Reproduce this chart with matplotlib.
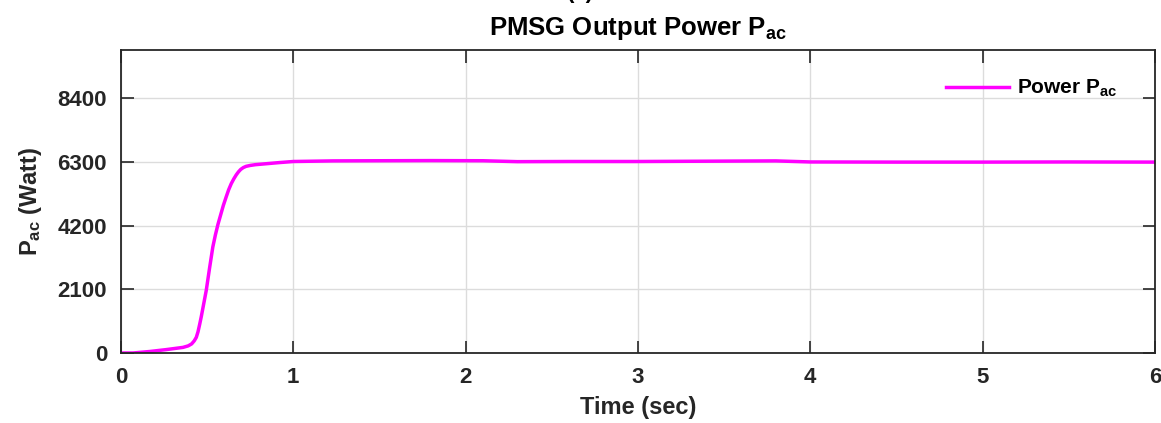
import matplotlib
matplotlib.use("Agg")
import matplotlib.pyplot as plt
import numpy as np

# curve points
t = [0.0, 0.07, 0.168, 0.26, 0.36, 0.39, 0.41, 0.425, 0.437, 0.447, 0.457, 0.466,
     0.476, 0.495, 0.514, 0.533, 0.548, 0.563, 0.578, 0.594, 0.611, 0.625, 0.64,
     0.655, 0.669, 0.682, 0.695, 0.71, 0.726, 0.75, 0.78, 0.84, 0.92, 1.0, 1.23,
     1.5, 1.8, 2.1, 2.3, 2.6, 3.0, 3.4, 3.8, 4.0, 4.5, 5.0, 5.5, 6.0]
p = [0, 0, 50, 110, 185, 235, 300, 400, 515, 700, 955, 1200,
     1500, 2070, 2800, 3500, 3900, 4250, 4550, 4870, 5160, 5390, 5590,
     5750, 5880, 5980, 6060, 6120, 6160, 6190, 6215, 6245, 6285, 6320, 6340,
     6345, 6350, 6345, 6315, 6320, 6320, 6330, 6340, 6305, 6300, 6300, 6305, 6300]

yticks = [0, 2100, 4200, 6300, 8400]
xticks = [0, 1, 2, 3, 4, 5, 6]

plt.rcParams['font.family'] = ['Liberation Sans', 'DejaVu Sans']
plt.rcParams['font.weight'] = 'bold'
plt.rcParams['mathtext.fontset'] = 'custom'
plt.rcParams['mathtext.rm'] = 'Liberation Sans:bold'
plt.rcParams['mathtext.bf'] = 'Liberation Sans:bold'
plt.rcParams['mathtext.it'] = 'Liberation Sans:bold'
plt.rcParams['mathtext.default'] = 'bf'

fig = plt.figure(figsize=(11.61, 4.23), dpi=100)
ax = fig.add_axes([0.1042, 0.1655, 0.8906, 0.7163])

ax.plot(t, p, color='#FF00FF', lw=2.5, label='Power P$_{ac}$')

ax.set_xlim(0, 6)
ax.set_ylim(0, 10000)
ax.set_xticks(xticks)
ax.set_yticks(yticks)
ax.grid(True, color='#dcdcdc', lw=1.0)
ax.tick_params(direction='in', length=9, width=1.2, top=True, right=True,
               labelsize=16, colors='#262626')
ax.tick_params(axis='x', pad=10)
ax.tick_params(axis='y', pad=10)
for lab in ax.get_xticklabels() + ax.get_yticklabels():
    lab.set_fontweight('bold')
for s in ax.spines.values():
    s.set_color('#262626')
    s.set_linewidth(1.3)

ax.set_xlabel('Time (sec)', fontsize=17, fontweight='bold', color='#262626', labelpad=6)
ax.set_ylabel('P$_{ac}$ (Watt)', fontsize=17, fontweight='bold', color='#262626', labelpad=10)
ax.set_title('PMSG Output Power P$_{ac}$', fontsize=18.5, fontweight='bold', pad=11)
fig.text(0.5, 0.992, '(a)', ha='center', va='bottom', fontsize=16, fontweight='bold')

leg = ax.legend(loc='upper right', frameon=False, fontsize=15, handlelength=3.0,
                handletextpad=0.4, bbox_to_anchor=(0.982, 0.97))
for txt in leg.get_texts():
    txt.set_fontweight('bold')

fig.savefig('out.png', dpi=100)
